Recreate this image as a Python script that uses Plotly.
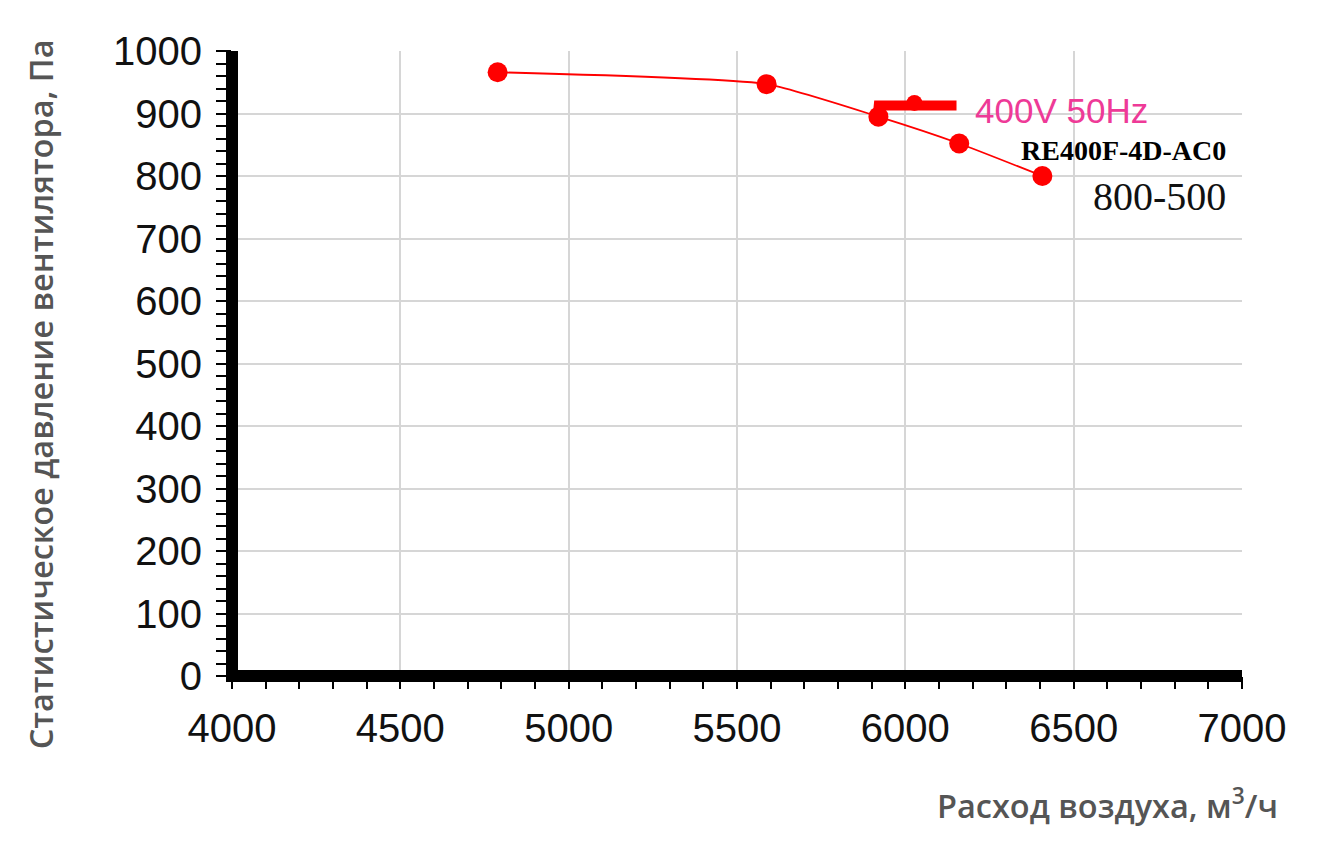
import plotly.graph_objects as go

# Fan curve data
flow = [4789, 5588, 5920, 6160, 6407]
pressure = [966, 947, 895, 852, 800]

# Operating point marker (thick bar)
op_flow = [5918, 5921, 6152]
op_pressure = [897, 913, 913]
op_dot_flow = [6027]
op_dot_pressure = [917]

x_ticks = [4000, 4500, 5000, 5500, 6000, 6500, 7000]
y_ticks = [0, 100, 200, 300, 400, 500, 600, 700, 800, 900, 1000]

label_voltage = "400V 50Hz"
label_model = "RE400F-4D-AC0"
label_size = "800-500"
x_title = "Расход воздуха, м<sup>3</sup>/ч"
y_title = "Статистическое давление вентилятора, Па"

fig = go.Figure()

fig.add_trace(go.Scatter(
    x=flow, y=pressure, mode="lines+markers",
    line=dict(color="#ff0000", width=1.8, shape="spline", smoothing=0.5),
    marker=dict(color="#ff0000", size=20),
    cliponaxis=False, showlegend=False, hoverinfo="skip"))

fig.add_trace(go.Scatter(
    x=op_flow, y=op_pressure, mode="lines",
    line=dict(color="#ff0000", width=10),
    showlegend=False, hoverinfo="skip"))

fig.add_trace(go.Scatter(
    x=op_dot_flow, y=op_dot_pressure, mode="markers",
    marker=dict(color="#ff0000", size=16),
    showlegend=False, hoverinfo="skip"))

tick_font = dict(family="Liberation Sans, Arial, sans-serif", size=40, color="#111111")

fig.update_xaxes(
    range=[4000, 7000], tickvals=x_ticks, ticktext=[str(v) for v in x_ticks],
    showgrid=True, gridcolor="#d6d6d6", gridwidth=2,
    zeroline=False, showline=False,
    ticks="outside", ticklen=12, tickwidth=2, tickcolor="#000000",
    minor=dict(dtick=100, ticks="outside", ticklen=12, tickwidth=2, tickcolor="#000000", showgrid=False),
    tickfont=tick_font, ticklabelstandoff=5,
)
fig.update_yaxes(
    range=[0, 1000], tickvals=y_ticks, ticktext=[str(v) for v in y_ticks],
    showgrid=True, gridcolor="#d6d6d6", gridwidth=2,
    zeroline=False, showline=False,
    ticks="outside", ticklen=15, tickwidth=2, tickcolor="#000000",
    minor=dict(dtick=20, ticks="outside", ticklen=15, tickwidth=2, tickcolor="#000000", showgrid=False),
    tickfont=tick_font, ticklabelstandoff=6,
)

# Thick black axis lines centred on the plot edges
fig.add_shape(type="line", xref="paper", yref="paper", x0=0, x1=1, y0=0, y1=0,
              line=dict(color="#000000", width=12), layer="above")
fig.add_shape(type="line", xref="paper", yref="paper", x0=0, x1=0, y0=-0.0096, y1=1,
              line=dict(color="#000000", width=12), layer="above")

fig.add_annotation(x=6200, y=905, text=label_voltage, showarrow=False,
                   xanchor="left", yanchor="middle",
                   font=dict(family="Liberation Sans, Arial, sans-serif", size=35, color="#ee3a97"))
fig.add_annotation(x=6957, y=841, text=label_model, showarrow=False,
                   xanchor="right", yanchor="middle",
                   font=dict(family="Liberation Serif, Times New Roman, serif", size=28, color="#000000", weight="bold"))
fig.add_annotation(x=6957, y=767, text=label_size, showarrow=False,
                   xanchor="right", yanchor="middle",
                   font=dict(family="Liberation Serif, Times New Roman, serif", size=40, color="#111111"))

title_font = dict(family="Open Sans, sans-serif", size=32.5, color="#555555", weight=600)
fig.add_annotation(xref="paper", yref="paper", x=1.0376, y=-0.205, text=x_title, showarrow=False,
                   xanchor="right", yanchor="middle", font=title_font)
fig.add_annotation(xref="paper", yref="paper", x=-0.19, y=0.451, text=y_title, showarrow=False,
                   textangle=-90, xanchor="center", yanchor="middle", font=title_font)

fig.update_layout(
    width=1333, height=843,
    margin=dict(l=224, r=99, t=43, b=175),
    plot_bgcolor="#ffffff", paper_bgcolor="#ffffff",
)

fig.write_html("out.html")
